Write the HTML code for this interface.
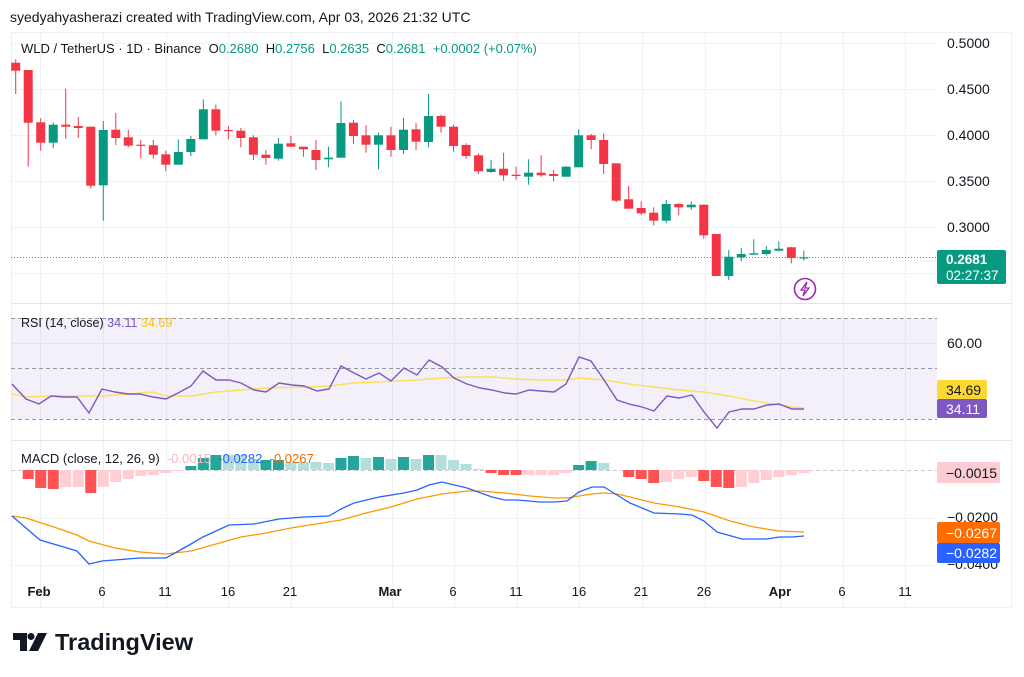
<!DOCTYPE html>
<html><head><meta charset="utf-8"><style>
html,body{margin:0;padding:0;background:#fff;}
body{width:1024px;height:677px;overflow:hidden;position:relative;font-family:"Liberation Sans","DejaVu Sans",sans-serif;}
svg{position:absolute;left:0;top:0;}
</style></head><body>
<svg id="s" width="1024" height="677" xmlns="http://www.w3.org/2000/svg" font-family="Liberation Sans, DejaVu Sans, sans-serif">
<text x="10" y="22" font-size="14" fill="#131722">syedyahyasherazi created with TradingView.com, Apr 03, 2026 21:32 UTC</text>
<rect x="11.5" y="32.5" width="1000" height="575" fill="none" stroke="#eef0f3"/>
<g id="grid" stroke="#f0f1f4" stroke-width="1"></g>
<rect x="11" y="318" width="926" height="101" fill="#7e57c2" fill-opacity="0.09"/>
<g stroke="#9598a1" stroke-dasharray="4,3" stroke-width="1">
<line x1="11" y1="318.5" x2="937" y2="318.5"/>
<line x1="11" y1="368.5" x2="937" y2="368.5"/>
<line x1="11" y1="419.5" x2="937" y2="419.5"/>
</g>
<line x1="11" y1="303.5" x2="1012" y2="303.5" stroke="#e0e3eb"/>
<line x1="11" y1="440.5" x2="1012" y2="440.5" stroke="#e0e3eb"/>
<line x1="11" y1="257.5" x2="937" y2="257.5" stroke="#26a69a" stroke-dasharray="1,2"/>
<line x1="11" y1="470.5" x2="937" y2="470.5" stroke="#c9cbd1" stroke-dasharray="4,3"/>
<g id="hist"></g>
<g id="cand"></g>
<polyline fill="none" stroke="#fbe05e" stroke-width="1.4" points="12,394 26,397 51,396 77,396 102,396 140,393 153,392 166,396 191,396 216,392 241,390 266,388 304,387 329,386 354,383 379,382 417,380 442,378 467,377 492,377 517,379 541,380 566,380 579,378 604,380 629,384 654,387 679,390 704,392 729,396 754,401 779,405 792,407 804,408"/>
<polyline fill="none" stroke="#7e57c2" stroke-width="1.4" points="12,384 26,399 39,404 51,396 64,397 77,397 89,413 102,389 115,392 128,394 140,394 153,397 166,399 178,393 191,386 203,371 216,380 229,380 241,383 254,390 266,392 279,383 292,385 304,386 317,391 329,389 341,366 354,373 366,379 379,373 391,381 404,368 417,375 429,360 442,367 454,378 467,384 480,388 492,390 505,393 516,394 529,390 541,391 554,392 566,384 579,357 591,361 604,380 617,400 629,404 642,407 654,411 667,396 679,398 692,395 704,412 717,428 729,412 742,409 754,409 767,405 779,404 792,409 804,409"/>
<polyline fill="none" stroke="#ff9800" stroke-width="1.3" points="12,516 26,518 51,526 77,535 89,541 115,548 140,552 166,554 191,551 216,544 241,537 266,533 291,528 316,524 341,520 366,513 391,507 417,499 442,494 467,491 480,491 505,493 530,496 555,498 567,498 579,496 592,494 604,493 617,494 630,497 654,503 680,507 704,512 730,521 754,527 779,531 804,532"/>
<polyline fill="none" stroke="#2962ff" stroke-width="1.3" points="12,516 40,540 77,551 89,564 102,561 140,558 166,558 191,544 203,537 229,525 254,524 279,519 304,517 329,516 341,509 354,503 379,497 404,493 417,490 429,485 442,482 467,488 492,497 505,500 517,500 540,502 555,502 567,501 579,492 592,487 604,487 617,495 630,503 654,513 680,514 692,515 704,521 717,532 742,539 754,539 767,539 779,537 792,537 804,536"/>
<text x="21" y="53" font-size="13" fill="#131722" xml:space="preserve">WLD / TetherUS · 1D · Binance  O<tspan fill="#089981">0.2680</tspan>  H<tspan fill="#089981">0.2756</tspan>  L<tspan fill="#089981">0.2635</tspan>  C<tspan fill="#089981">0.2681</tspan>  <tspan fill="#089981">+0.0002 (+0.07%)</tspan></text>
<text x="21" y="327" font-size="12.5" fill="#131722">RSI (14, close) <tspan fill="#7e57c2">34.11</tspan> <tspan fill="#f5c518">34.69</tspan></text>
<text x="21" y="463" font-size="13" fill="#131722" xml:space="preserve">MACD (close, 12, 26, 9)  <tspan fill="#f7b6bf">-0.0015</tspan>  <tspan fill="#2962ff">-0.0282</tspan>  <tspan fill="#ef6c00">-0.0267</tspan></text>
<g font-size="14" fill="#131722">
<text x="947" y="48">0.5000</text><text x="947" y="94">0.4500</text><text x="947" y="140">0.4000</text><text x="947" y="186">0.3500</text><text x="947" y="232">0.3000</text>
<text x="947" y="348">60.00</text>
<text x="947" y="522">−0.0200</text><text x="947" y="569">−0.0400</text>
</g>
<rect x="937" y="250" width="69" height="34" rx="2" fill="#089981"/>
<text x="946" y="264" font-size="13.5" fill="#fff" font-weight="bold">0.2681</text>
<text x="946" y="280" font-size="13.5" fill="#fff">02:27:37</text>
<rect x="937" y="380" width="50" height="19" rx="2" fill="#fdd835"/>
<text x="946" y="395" font-size="14" fill="#131722">34.69</text>
<rect x="937" y="399" width="50" height="19" rx="2" fill="#7e57c2"/>
<text x="946" y="414" font-size="14" fill="#fff">34.11</text>
<rect x="937" y="462" width="63" height="21" rx="2" fill="#fbcdd2"/>
<text x="946" y="478" font-size="14" fill="#131722">−0.0015</text>
<rect x="937" y="522" width="63" height="21" rx="2" fill="#ff6d00"/>
<text x="946" y="538" font-size="14" fill="#fff">−0.0267</text>
<rect x="937" y="543" width="63" height="20" rx="2" fill="#2962ff"/>
<text x="946" y="558" font-size="14" fill="#fff">−0.0282</text>
<circle cx="805" cy="289" r="10.5" fill="#fff" stroke="#9c27b0" stroke-width="1.6"/>
<path d="M807 282 L801 290 L805 290 L803 296 L809 288 L805 288 Z" fill="none" stroke="#9c27b0" stroke-width="1.3"/>
<g font-size="13" fill="#131722" text-anchor="middle">
<text x="39" y="596" font-weight="bold">Feb</text><text x="102" y="596">6</text><text x="165" y="596">11</text><text x="228" y="596">16</text><text x="290" y="596">21</text><text x="390" y="596" font-weight="bold">Mar</text><text x="453" y="596">6</text><text x="516" y="596">11</text><text x="579" y="596">16</text><text x="641" y="596">21</text><text x="704" y="596">26</text><text x="780" y="596" font-weight="bold">Apr</text><text x="842" y="596">6</text><text x="905" y="596">11</text>
</g>
<g fill="#131722">
<path d="M13 633 H27 V651 H20 V640 H13 Z"/>
<circle cx="31" cy="636.5" r="3.5"/>
<path d="M38 633 H47 L38 651 H29 Z"/>
</g>
<text x="55" y="650" font-size="23.5" font-weight="bold" fill="#131722">TradingView</text>
</svg>
<script>
var NS="http://www.w3.org/2000/svg";
function el(p,t,a){var e=document.createElementNS(NS,t);for(var k in a)e.setAttribute(k,a[k]);p.appendChild(e);return e;}
var g=document.getElementById('grid');
[40,103,166,228,291,392,454,517,579,642,705,780,843,905].forEach(function(x){el(g,'line',{x1:x+.5,y1:33,x2:x+.5,y2:607});});
[43,89,135,181,227,273,343,518,565].forEach(function(y){el(g,'line',{x1:11,y1:y+.5,x2:937,y2:y+.5});});
var C=[[62.7,70.7,59.3,94],[70,122.7,70,166.7],[122.3,142.7,118.3,150.7],[142.7,124.7,122.3,148.3],[124.7,126.7,88.7,138.7],[126,128,117,138],[126.7,185.7,126.7,188.3],[185.3,130,121,220.7],[129.7,138,113,145],[137.3,145.7,130,147.3],[144.7,145.7,140,158.3],[145.3,154.7,140,158.7],[154.3,164.7,150.7,171.3],[164.7,152,139.3,164.7],[152,139,136,156],[139.3,109.3,99.3,139.3],[109.3,130.7,104.7,135.3],[130,130.7,126,139.3],[130.7,138,128,147.3],[137.3,154.7,135.3,160],[154.7,158,150,164.7],[158.7,143.7,138,160.7],[143.3,146.7,136,147.3],[146.7,149.3,146.7,156.7],[150,160,140,170],[159.3,157.7,146.7,167.3],[157.7,123,101.3,157.7],[122.7,136,120,144],[135.3,144.7,125.3,152.7],[144.7,135.3,132.7,169.3],[135.3,150,126.7,156.7],[150,129.7,117.7,154],[129.3,141.7,123.3,150],[142,116,94,147.3],[116,126.7,114.7,132.7],[126.7,146,124.7,151.7],[145,156,143.3,158.7],[155.3,171.3,153.3,174],[172,168.7,160,172.7],[168.7,175.3,152.7,180.7],[174.7,176,166.7,180],[176.7,172.7,159.3,184.7],[172.7,175.3,155.3,176.7],[174,176,170,181.3],[176.7,166.7,166,176.7],[167.3,135.3,129.3,167.3],[135.3,140,134,149.3],[140,164,133.3,174],[163.3,200.7,163.3,202],[199.3,208.7,186,208.7],[208,213.3,201.3,215.3],[212.7,220.7,207.3,225.3],[220.7,204,200,223.3],[204,207.3,203.3,215.3],[207.3,204.7,201.3,210],[204.7,235.3,204.7,238.7],[234,276,234,276],[276,256.7,250,280],[257.3,254,248,261.3],[254.7,253.3,239.3,254.7],[254,250,246,255.3],[250.7,248.7,241.3,251.3],[247.3,258,246.7,263.3],[258,257.3,250.7,260.7]];
var cg=document.getElementById('cand');
C.forEach(function(c,i){var x=15.7+i*12.51;var up=c[1]<c[0];var col=up?'#089981':'#f23645';
el(cg,'line',{x1:x,y1:c[2],x2:x,y2:c[3],stroke:col,'stroke-width':1});
var t=Math.min(c[0],c[1]),h=Math.max(Math.abs(c[0]-c[1]),1.2);
el(cg,'rect',{x:x-4.5,y:t,width:9,height:h,fill:col});});
var H=[[0,'p'],[9,'r'],[18,'r'],[19,'r'],[17,'p'],[17,'p'],[23,'r'],[17,'p'],[12,'p'],[9,'p'],[6,'p'],[5,'p'],[3,'p'],[1,'p'],[-4,'g'],[-12,'g'],[-15,'g'],[-15,'l'],[-15,'l'],[-11,'l'],[-10,'g'],[-10,'g'],[-8,'l'],[-8,'l'],[-8,'l'],[-7,'l'],[-12,'g'],[-14,'g'],[-12,'l'],[-13,'g'],[-11,'l'],[-13,'g'],[-11,'l'],[-15,'g'],[-15,'l'],[-10,'l'],[-6,'l'],[-1,'l'],[3,'r'],[5,'r'],[5,'r'],[5,'p'],[5,'p'],[5,'p'],[3,'p'],[-5,'g'],[-9,'g'],[-7,'l'],[0,'p'],[7,'r'],[9,'r'],[13,'r'],[12,'p'],[9,'p'],[7,'p'],[11,'r'],[17,'r'],[18,'r'],[17,'p'],[13,'p'],[10,'p'],[7,'p'],[5,'p'],[3,'p']];
var cols={r:'#ff5252',p:'#ffcdd2',g:'#26a69a',l:'#b2dfdb'};
var hg=document.getElementById('hist');
H.forEach(function(h,i){var x=15.7+i*12.51;var v=h[0];if(v==0)return;
el(hg,'rect',{x:x-5.5,y:v<0?470+v:470,width:11,height:Math.abs(v),fill:cols[h[1]]});});
</script>
</body></html>
